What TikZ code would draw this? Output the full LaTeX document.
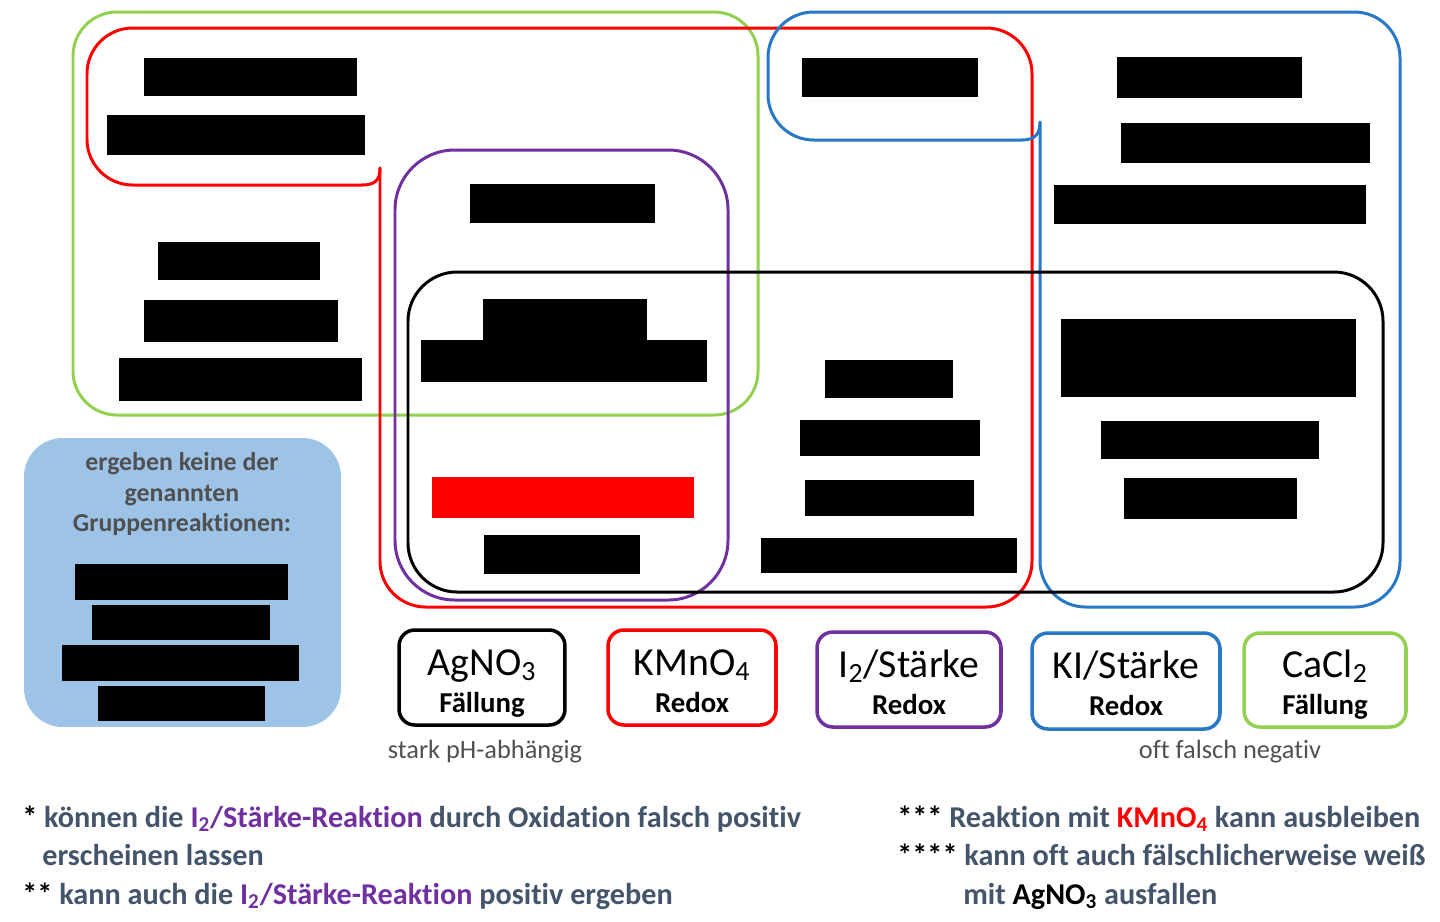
\documentclass[tikz,border=0pt]{standalone}
\usepackage{fontspec}
\setmainfont{Carlito}[Ligatures=NoCommon]
\definecolor{grn}{RGB}{146,208,80}
\definecolor{rred}{RGB}{255,0,0}
\definecolor{bblue}{RGB}{40,120,200}
\definecolor{purp}{RGB}{112,48,160}
\definecolor{bfill}{RGB}{157,195,230}
\definecolor{txtb}{RGB}{68,84,106}
\definecolor{txtg}{RGB}{80,80,80}
\begin{document}
\begin{tikzpicture}[x=0.02cm,y=-0.02cm,
  region/.style={line width=1.7pt, line join=round, line cap=round},
  bar/.style={fill=black},
  legbox/.style={draw, line width=2pt, rounded corners=9pt, inner sep=0pt},
  legtop/.style={anchor=base, inner sep=0pt, font=\fontsize{22.6}{21}\selectfont},
  legbot/.style={anchor=base, inner sep=0pt, font=\fontsize{16.4}{21}\selectfont\bfseries},
  note/.style={anchor=base, inner sep=0pt, text=txtg, font=\fontsize{15}{17}\selectfont},
  fn/.style={anchor=base west, inner sep=0pt, text=txtb, font=\fontsize{17.2}{21}\selectfont\bfseries}
]
\useasboundingbox (0,0) rectangle (1440,921);

% --- group regions ---
\draw[region, draw=grn, rounded corners=25pt] (73,12) rectangle (758,415);
\draw[region, draw=rred, rounded corners=26pt] (380,168) -- (380,607) -- (1032,607) -- (1032,28) -- (87,28) -- (87,185) -- (362,185);
\draw[region, draw=rred] (362,185) .. controls (375,185) and (380,180) .. (380,168);
\draw[region, draw=bblue, rounded corners=26pt] (1040,122) -- (1040,607) -- (1400,607) -- (1400,12) -- (768,12) -- (768,140) -- (1022,140);
\draw[region, draw=bblue] (1022,140) .. controls (1035,140) and (1040,134) .. (1040,122);
\draw[region, draw=purp, rounded corners=34pt] (395,150) rectangle (728,600);
\draw[region, draw=black, rounded corners=28pt] (408,272) rectangle (1383,592);

% --- redacted bars ---
\fill[bar] (144,58) rectangle (357,96);
\fill[bar] (107,115) rectangle (365,155);
\fill[bar] (158,242) rectangle (320,280);
\fill[bar] (144,300) rectangle (338,342);
\fill[bar] (119,358) rectangle (362,401);
\fill[bar] (470,184) rectangle (655,223);
\fill[bar] (483,299) rectangle (647,341);
\fill[bar] (421,340) rectangle (707,382);
\fill[rred] (432,477) rectangle (694,518);
\fill[bar] (484,535) rectangle (640,574);
\fill[bar] (802,58) rectangle (978,97);
\fill[bar] (825,360) rectangle (953,398);
\fill[bar] (800,420) rectangle (980,456);
\fill[bar] (805,480) rectangle (974,516);
\fill[bar] (761,538) rectangle (1017,573);
\fill[bar] (1117,57) rectangle (1302,98);
\fill[bar] (1121,123) rectangle (1370,163);
\fill[bar] (1054,185) rectangle (1366,224);
\fill[bar] (1061,319) rectangle (1356,397);
\fill[bar] (1101,421) rectangle (1319,459);
\fill[bar] (1124,478) rectangle (1297,519);

% --- box of substances without group reaction ---
\node[fill=bfill, rounded corners=22pt, minimum width=6.34cm, minimum height=5.78cm, inner sep=0pt] (nobox) at (182.5,582.5) {};
\node[inner sep=0pt, align=center, text=txtg, font=\fontsize{14.7}{17.6}\selectfont\bfseries] (notext) at (182,494) {ergeben keine der\\genannten\\Gruppenreaktionen:};
\fill[bar] (75,564) rectangle (288,600);
\fill[bar] (92,605) rectangle (270,640);
\fill[bar] (62,645) rectangle (299,681);
\fill[bar] (98,686) rectangle (265,721);

% --- legend ---
\node[legbox, draw=black, minimum width=3.32cm, minimum height=1.9cm] (agbox) at (482,677.5) {};
\node[legtop] (agt) at (482,675) {AgNO\textsubscript{3}};
\node[legbot] (ags) at (482,712) {Fällung};
\node[legbox, draw=rred, minimum width=3.36cm, minimum height=1.9cm] (kmbox) at (692,677.5) {};
\node[legtop] (kmt) at (692,675) {KMnO\textsubscript{4}};
\node[legbot] (kms) at (692,712) {Redox};
\node[legbox, draw=purp, minimum width=3.68cm, minimum height=1.9cm] (i2box) at (909,679.5) {};
\node[legtop] (i2t) at (909,677) {I\textsubscript{2}/Stärke};
\node[legbot] (i2s) at (909,714) {Redox};
\node[legbox, draw=bblue, minimum width=3.76cm, minimum height=1.92cm] (kibox) at (1126,681) {};
\node[legtop] (kit) at (1126,678) {KI/Stärke};
\node[legbot] (kis) at (1126,715) {Redox};
\node[legbox, draw=grn, minimum width=3.24cm, minimum height=1.88cm] (cabox) at (1325,680) {};
\node[legtop] (cat) at (1325,677) {CaCl\textsubscript{2}};
\node[legbot] (cas) at (1325,714) {Fällung};
\node[note] (agnote) at (485,758) {stark pH-abhängig};
\node[note] (canote) at (1230,758) {oft falsch negativ};

% --- footnotes ---
\node[fn] (fn1) at (22,827) {\textcolor{black}{*} können die \textcolor{purp}{I\textsubscript{2}/Stärke-Reaktion} durch Oxidation falsch positiv};
\node[fn] (fn1b) at (42,865) {erscheinen lassen};
\node[fn] (fn2) at (22,904) {\textcolor{black}{**} kann auch die \textcolor{purp}{I\textsubscript{2}/Stärke-Reaktion} positiv ergeben};
\node[fn] (fn3) at (897,827) {\textcolor{black}{***} Reaktion mit \textcolor{rred}{KMnO\textsubscript{4}} kann ausbleiben};
\node[fn] (fn4) at (897,865) {\textcolor{black}{****} kann oft auch fälschlicherweise weiß};
\node[fn] (fn4b) at (963,904) {mit \textcolor{black}{AgNO\textsubscript{3}} ausfallen};
\end{tikzpicture}
\end{document}
